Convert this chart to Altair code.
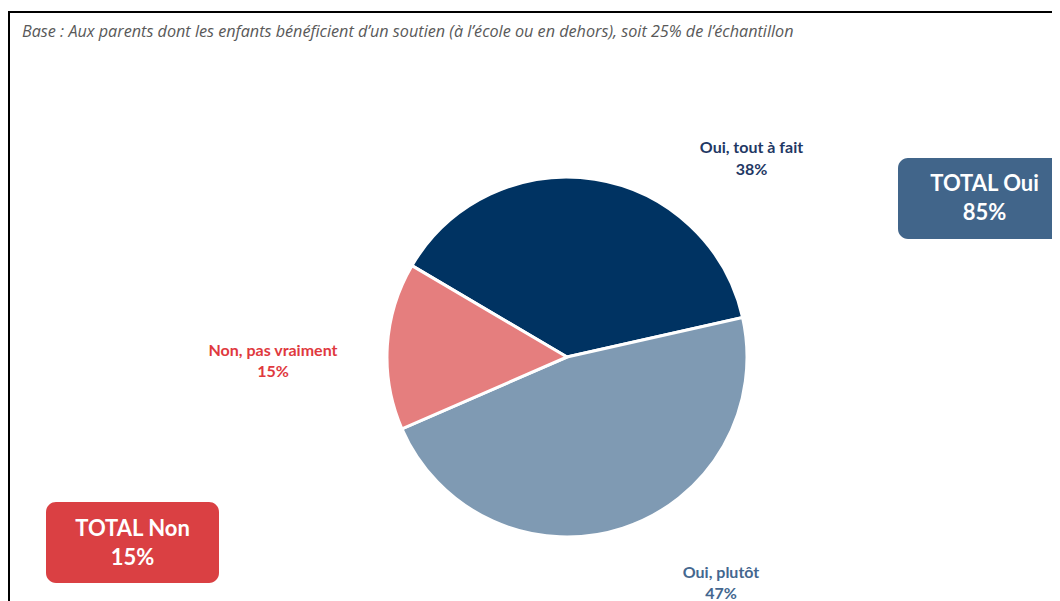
import altair as alt
import pandas as pd

categories = ["Oui, tout à fait", "Oui, plutôt", "Non, pas vraiment"]
values = [38, 47, 15]
colors = ["#003362", "#7F9AB3", "#E57E7E"]
order = [0, 1, 2]

subtitle = "Base : Aux parents dont les enfants bénéficient d’un soutien (à l’école ou en dehors), soit 25% de l’échantillon"
total_oui = "TOTAL Oui\n85%"
total_non = "TOTAL Non\n15%"

df = pd.DataFrame({"cat": categories, "val": values, "ord": order})

W, H = 1044, 593
PI = 3.14159265
start = -59.5 * PI / 180

pie = alt.Chart(df).mark_arc(stroke="white", strokeWidth=3, outerRadius=180).encode(
    theta=alt.Theta("val:Q", stack=True, scale=alt.Scale(range=[start, start + 2 * PI])),
    color=alt.Color("cat:N", scale=alt.Scale(domain=categories, range=colors), legend=None),
    order=alt.Order("ord:Q"),
    x=alt.value(559),
    y=alt.value(349),
)

base = alt.Chart(pd.DataFrame({"a": [0]}))

frame = base.mark_rect(fill=None, stroke="#000000", strokeWidth=2).encode(
    x=alt.value(1), x2=alt.value(1200), y=alt.value(4), y2=alt.value(800)
)

sub = base.mark_text(align="left", baseline="middle", font="Open Sans", fontSize=16.2,
                     fontStyle="italic", color="#595959").encode(
    x=alt.value(14), y=alt.value(24), text=alt.value(subtitle))


def label(txt, x, y, color, lh=22):
    return base.mark_text(align="center", baseline="middle", font="Lato", fontSize=16,
                          fontWeight="bold", color=color, lineBreak="\n", lineHeight=lh).encode(
        x=alt.value(x), y=alt.value(y), text=alt.value(txt))


lab1 = label(categories[0] + "\n" + f"{values[0]}%", 743.5, 140, "#1F3864")
lab2 = label(categories[1] + "\n" + f"{values[1]}%", 713, 565, "#44678F", lh=21)
lab3 = label(categories[2] + "\n" + f"{values[2]}%", 265, 343, "#E0393E", lh=21)

box_oui = base.mark_rect(fill="#41658A", cornerRadius=10).encode(
    x=alt.value(890), x2=alt.value(1075), y=alt.value(150), y2=alt.value(231))
box_non = base.mark_rect(fill="#DA4043", cornerRadius=10).encode(
    x=alt.value(38), x2=alt.value(211), y=alt.value(494), y2=alt.value(575))


def boxtext(txt, x, y):
    return base.mark_text(align="center", baseline="middle", font="Lato", fontSize=22,
                          fontWeight="bold", color="white", lineBreak="\n", lineHeight=29).encode(
        x=alt.value(x), y=alt.value(y), text=alt.value(txt))


t_oui = boxtext(total_oui, 976.5, 176)
t_non = boxtext(total_non, 124.5, 521)

chart = alt.layer(frame, sub, pie, lab1, lab2, lab3, box_oui, box_non, t_oui, t_non).properties(
    width=W, height=H, padding=0, autosize=alt.AutoSizeParams(type="none"),
    background="white"
).configure_view(stroke=None)

chart.save("out.html", embed_options={"renderer": "svg", "actions": False})
